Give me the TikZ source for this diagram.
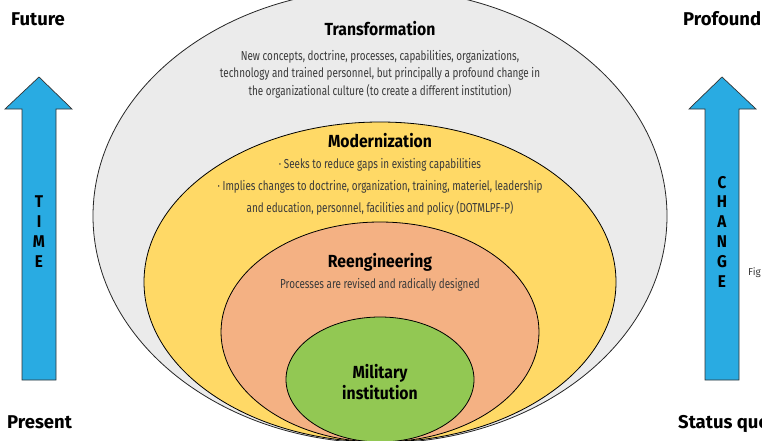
\documentclass[tikz,border=0pt]{standalone}
\usepackage{fontspec}
\setmainfont{Fira Sans}
\newfontfamily\bodyfont[FakeStretch=0.76]{Fira Sans}
\newfontfamily\headfont[FakeStretch=0.9]{Fira Sans}
\usetikzlibrary{shapes.geometric}
\definecolor{grayfill}{HTML}{EBEBEB}
\definecolor{yellowfill}{HTML}{FFD966}
\definecolor{salmonfill}{HTML}{F4B183}
\definecolor{greenfill}{HTML}{92C853}
\definecolor{arrowblue}{HTML}{29ABE2}
\definecolor{bodygray}{HTML}{3A3A3A}
\tikzset{
  ring/.style={ellipse, draw=black, line width=0.8pt, inner sep=0pt},
  head/.style={font=\headfont\bfseries\fontsize{17.5}{21}\selectfont, anchor=base, inner sep=0pt, align=center},
  body/.style={font=\bodyfont\fontsize{13}{17.5}\selectfont, text=bodygray, anchor=base, inner sep=0pt, align=center},
  corner/.style={font=\bfseries\fontsize{18.5}{20}\selectfont, anchor=base west, inner sep=0pt},
  bigarrow/.style={fill=arrowblue, draw=black!80, line width=0.7pt, line join=miter},
  arrowtext/.style={font=\headfont\bfseries\fontsize{17}{19.8}\selectfont, anchor=base, inner sep=0pt, align=center}
}
\begin{document}
\begin{tikzpicture}[x=1pt,y=-1pt]
\useasboundingbox (0,0) rectangle (762,440);
% nested ellipses
\node[ring, fill=grayfill, draw=black!85, minimum width=574pt, minimum height=454pt] (transf) at (380,216) {};
\node[ring, fill=yellowfill, minimum width=472pt, minimum height=320pt] (modern) at (380,282) {};
\node[ring, fill=salmonfill, minimum width=318pt, minimum height=220pt] (reeng) at (380,332) {};
\node[ring, fill=greenfill, minimum width=188pt, minimum height=125pt] (milit) at (380,379.5) {};
% texts (multi-line nodes are placed by the baseline of their last line)
\node[head] (th) at (380,35) {Transformation};
\node[body] (tb) at (380,95) {New concepts, doctrine, processes, capabilities, organizations,\\technology and trained personnel, but principally a profound change in\\the organizational culture (to create a different institution)};
\node[head] (mh) at (380,147) {Modernization};
\node[body, font=\bodyfont\fontsize{13}{22}\selectfont] (mb) at (380,212) {· Seeks to reduce gaps in existing capabilities\\· Implies changes to doctrine, organization, training, materiel, leadership\\and education, personnel, facilities and policy (DOTMLPF-P)};
\node[head] (rh) at (380,267) {Reengineering};
\node[body] (rb) at (380,288) {Processes are revised and radically designed};
\node[head] (mi) at (380,399) {Military\\institution};
% arrows
\draw[bigarrow] (22,380) -- (22,109) -- (5,109) -- (39,77) -- (72,109) -- (56,109) -- (56,380) -- cycle;
\draw[bigarrow] (705,380) -- (705,109) -- (689,109) -- (722,77) -- (756,109) -- (739,109) -- (739,380) -- cycle;
\node[arrowtext] (time) at (39,267) {T\\I\\M\\E};
\node[arrowtext] (change) at (722,287) {C\\H\\A\\N\\G\\E};
% corner labels
\node[corner] (future) at (11,25) {Future};
\node[corner] (present) at (7,428) {Present};
\node[corner] (profound) at (683,25) {Profound};
\node[corner] (status) at (678,428) {Status quo};
\node[anchor=base west, inner sep=0pt, font=\fontsize{10}{12}\selectfont, text=bodygray] (fig) at (748,275) {Fig};
\end{tikzpicture}
\end{document}
